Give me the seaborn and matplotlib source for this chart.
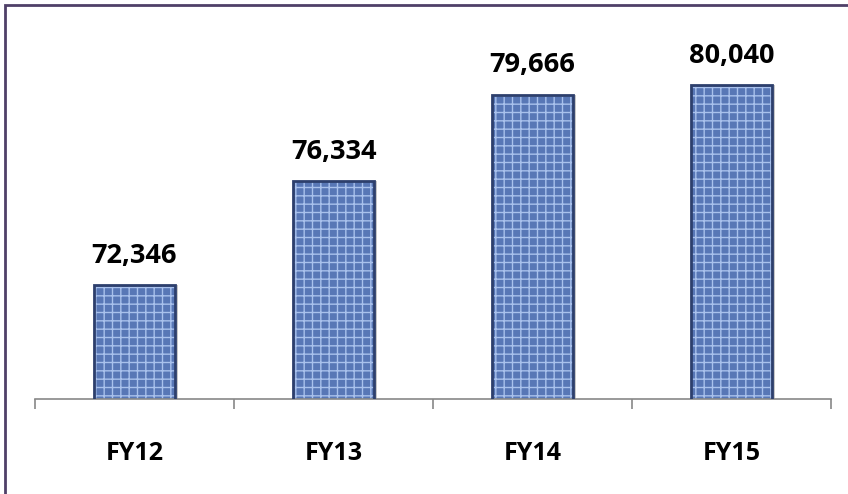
import matplotlib
matplotlib.use("Agg")
import matplotlib.pyplot as plt
import seaborn as sns
from matplotlib.patches import Rectangle

years = ["FY12", "FY13", "FY14", "FY15"]
values = [72346, 76334, 79666, 80040]
labels = ["72,346", "76,334", "79,666", "80,040"]

sns.set_style("white")
plt.rcParams['font.family'] = ['Open Sans', 'DejaVu Sans']

fig = plt.figure(figsize=(8.48, 4.94), dpi=100)
ax = fig.add_axes([35 / 848, 95 / 494, 796 / 848, 365 / 494])

sns.barplot(x=years, y=values, color="#5877b6", width=0.41, ax=ax, saturation=1)

for p in ax.patches:
    p.set_hatch("++")
    p.set_edgecolor("#a9c1ec")
    p.set_linewidth(0)
    # soft shadow + dark outline
    ax.add_patch(Rectangle((p.get_x() + 0.012, p.get_y()), p.get_width(), p.get_height(),
                           facecolor="#c8c8c8", edgecolor="none", zorder=p.get_zorder() - 0.5))
    ax.add_patch(Rectangle(p.get_xy(), p.get_width(), p.get_height(),
                           fill=False, edgecolor="#2d3f6c", linewidth=2, zorder=3))

for i, (v, t) in enumerate(zip(values, labels)):
    ax.annotate(t, (i, v), xytext=(0, 16), textcoords="offset points",
                ha="center", va="baseline", fontsize=19.5, fontweight="bold", color="black")

ax.set_ylim(67950, 82000)
ax.set_xlim(-0.5, 3.5)
ax.set_yticks([])
ax.set_xticks(range(len(years)))
ax.set_xticklabels(years, fontsize=18, fontweight="bold", color="black")
ax.set_xticks([-0.5, 0.5, 1.5, 2.5, 3.5], minor=True)
ax.tick_params(axis="x", which="major", length=0, pad=30)
ax.tick_params(axis="x", which="minor", length=7, color="#888888", width=1.2, bottom=True)
for s in ["top", "right", "left"]:
    ax.spines[s].set_visible(False)
ax.spines["bottom"].set_color("#888888")
ax.spines["bottom"].set_linewidth(1.2)

# frame, only top and left edges are visible in the original
fig.patches.append(Rectangle((5 / 848, -0.1), 1.2, 1.1 - 5 / 494, transform=fig.transFigure,
                             fill=False, edgecolor="#4f4068", linewidth=2))

fig.savefig("out.png", dpi=100)
